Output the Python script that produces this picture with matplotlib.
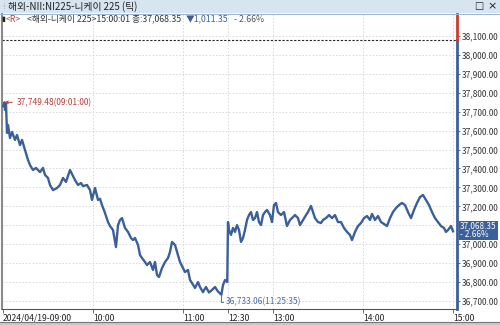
import matplotlib
matplotlib.use('Agg')
import matplotlib.pyplot as plt
from matplotlib.patches import Rectangle
from matplotlib.lines import Line2D

plt.rcParams['font.family'] = ['Noto Sans CJK KR', 'DejaVu Sans']

# ---- data (session minutes since 09:00, lunch break removed) ----
minutes = [0, 1, 1.33, 2, 2.67, 3.33, 4.67, 6, 8, 9.33, 11.33, 12.67, 14.67, 16.67, 18, 20, 22,
           24.67, 26.67, 28, 30, 31.33, 33.33, 36, 38, 40, 42, 44.67, 46.67, 48, 50, 52, 53.33,
           56, 58, 59.33, 61.33, 63.33, 64.67, 66, 68, 70, 71.33, 73.33, 75.33, 76.67, 78, 79.33,
           81.33, 83.33, 85.33, 86.67, 88, 90, 91.33, 92.67, 94.67, 96, 98, 100, 101.33, 102.67,
           104, 106, 108, 110, 111.33, 112.67, 114.67, 116.67, 118, 120, 121.33, 123.33, 124.67,
           126, 128, 130, 131.33, 133.33, 135.33, 137.33, 139.33, 141.33, 143.33, 145.58, 146.67,
           148, 149.5,
           150, 150.67, 152, 153.33, 154.67, 156, 157.33, 158.67, 160, 161.33, 162.67, 164, 165.33,
           166.67, 168, 169.33, 170.67, 172, 173.33, 174.67, 176, 178, 179.33, 180.67, 182, 183.33,
           185.33, 187.33, 189.33, 191.33, 192.67, 194.67, 196.67, 198, 200, 202, 203.33, 205.33,
           206.67, 208, 210, 212, 213.33, 215.33, 217.33, 219.33, 221.33, 223.33, 225.33, 227.33,
           229.33, 231.33, 232.67, 234.67, 236.67, 238.67, 240.67, 242.67, 244.67, 246, 248, 250,
           252, 254, 256, 258, 260, 262, 264, 266, 268, 270, 272, 274, 276, 278, 280, 282, 284,
           286, 288, 290, 292, 294, 295.33, 296.67, 298.67, 300]
prices = [37730, 37749.48, 37709, 37741, 37588, 37630, 37561, 37593, 37551, 37577, 37524, 37551,
          37498, 37445, 37418, 37392, 37403, 37381, 37403, 37366, 37350, 37313, 37286, 37297,
          37313, 37350, 37329, 37392, 37360, 37339, 37313, 37323, 37307, 37313, 37286, 37234,
          37297, 37234, 37240, 37207, 37165, 37117, 37096, 37075, 36985, 37101, 37128, 37138,
          37086, 37065, 37033, 37022, 37033, 36996, 36943, 36927, 36906, 36890, 36906, 36864,
          36906, 36837, 36827, 36874, 36906, 36927, 36959, 37012, 36996, 36943, 36906, 36874,
          36853, 36864, 36811, 36795, 36769, 36800, 36774, 36747, 36774, 36745, 36758, 36774,
          36750, 36733.06, 36784, 36811, 36800,
          37117, 37075, 37049, 37086, 37065, 37101, 37075, 37012, 37033, 37075, 37128, 37154,
          37170, 37128, 37138, 37170, 37117, 37101, 37154, 37170, 37181, 37154, 37117, 37207,
          37218, 37170, 37154, 37170, 37096, 37128, 37138, 37154, 37138, 37101, 37128, 37154,
          37170, 37202, 37170, 37138, 37117, 37112, 37128, 37138, 37154, 37138, 37154, 37117,
          37117, 37086, 37065, 37049, 37022, 37065, 37096, 37112, 37138, 37149, 37128, 37160,
          37128, 37149, 37117, 37107, 37096, 37138, 37170, 37191, 37207, 37218, 37207, 37170,
          37138, 37181, 37218, 37249, 37260, 37234, 37207, 37170, 37138, 37117, 37096, 37086,
          37065, 37075, 37096, 37068.35]
prev_close = 38079.70
tick_minutes = [0, 60, 120, 150, 180, 240, 300]
tick_labels = ['2024/04/19-09:00', '10:00', '11:00', '12:30', '13:00', '14:00', '15:00']
y_ticks = list(range(36700, 38101, 100))
title = '해외-NII:NI225-니케이 225 (틱)'
hi_label = '37,749.48(09:01:00)'
lo_label = '36,733.06(11:25:35)'
last_label = '37,068.35\n- 2.66%'

W, H = 500, 325
fig = plt.figure(figsize=(5, 3.25), dpi=100)
fig.patch.set_facecolor('white')

def px(x0, y0, x1, y1):
    return [x0 / W, 1 - y1 / H, (x1 - x0) / W, (y1 - y0) / H]

BLUE = '#3b5f99'
RED = '#b5403a'

# title bar
fig.patches.append(Rectangle((0, 1 - 13 / H), 1, 13 / H, transform=fig.transFigure,
                             facecolor='#d7e5f1', edgecolor='none', zorder=0))
fig.lines.append(Line2D([0, 1], [1 - 13.5 / H] * 2, transform=fig.transFigure,
                        color='#9fb6cc', lw=0.8))
fig.text(2 / W, 1 - 6.5 / H, '⁞', fontsize=6, color='#8899aa', va='center', ha='left')
fig.text(8 / W, 1 - 6.5 / H, title, fontsize=7, color='#222222', va='center', ha='left')
fig.text(474 / W, 1 - 6.5 / H, '□', fontsize=7, color='#222222', va='center', ha='left',
         family=['DejaVu Sans'])
fig.text(487 / W, 1 - 6.5 / H, '×', fontsize=8, color='#222222', va='center', ha='left',
         family=['DejaVu Sans'])

# legend line
ly = 1 - 19 / H
fig.text(1 / W, ly, '▮', fontsize=5, color='#222222', va='center', ha='left', family=['DejaVu Sans'])
fig.text(6 / W, ly, '<R>', fontsize=6.3, color=RED, va='center', ha='left')
fig.text(27 / W, ly, '<해외-니케이 225>15:00:01 종:37,068.35', fontsize=6.3, color='#333333',
         va='center', ha='left')
fig.text(186 / W, ly, '▼1,011.35', fontsize=6.3, color=BLUE, va='center', ha='left')
fig.text(234 / W, ly, '- 2.66%', fontsize=6.3, color='#555555', va='center', ha='left')

# main axes
ax = fig.add_axes(px(2, 14, 457, 309))
ax.set_facecolor('white')
ymax = 38100 + (36 - 14) / 0.1893
ymin = 36700 - (309 - 301) / 0.1893
ax.set_ylim(ymin, ymax)
ax.set_xlim(-0.67, 302.67)

for v in y_ticks:
    ax.axhline(v, color='#d6d6d6', lw=0.6, dashes=(2, 2), zorder=1)
for t in tick_minutes[1:]:
    ax.axvline(t, color='#d6d6d6', lw=0.6, dashes=(2, 2), zorder=1)
ax.axhline(prev_close, color='#222222', lw=0.8, dashes=(2, 1.5), zorder=2)

ax.plot(minutes, prices, color=BLUE, lw=1.7, zorder=3, solid_joinstyle='round')

for s in ['top', 'right']:
    ax.spines[s].set_visible(False)
ax.spines['left'].set_color('#8a8a8a')
ax.spines['left'].set_linewidth(1.5)
ax.spines['bottom'].set_color('#555555')
ax.spines['bottom'].set_linewidth(0.8)

xr = ax.get_xlim()[1]
ax.plot([xr, xr], [ymin, prev_close], color=BLUE, lw=2, clip_on=False, zorder=4)
ax.plot([xr, xr], [prev_close, ymax], color='#d23a2e', lw=2, clip_on=False, zorder=4)

# tick labels hidden where the last-value box covers them (as in the reference)
ax.yaxis.tick_right()
ax.set_yticks(y_ticks)
ax.set_yticklabels(['' if abs(v - prices[-1]) < 50 else f'{v:,.2f}' for v in y_ticks])
ax.tick_params(axis='y', direction='out', length=2.5, width=0.6, color='#555555',
               labelsize=6, labelcolor='#333333', pad=1)
ax.set_xticks(tick_minutes)
ax.set_xticklabels(tick_labels, ha='left')
ax.tick_params(axis='x', direction='out', length=3, width=0.6, color='#555555',
               labelsize=6.2, labelcolor='#222222', pad=0.5)

# high annotation
hi_idx = prices.index(max(prices))
ax.annotate(hi_label, xy=(minutes[hi_idx], prices[hi_idx]), xytext=(12, 0),
            textcoords='offset pixels', ha='left', va='center', fontsize=6, color=RED,
            arrowprops=dict(arrowstyle='->', color=RED, lw=0.7, shrinkA=1, shrinkB=0,
                            mutation_scale=5), zorder=5)
# low annotation
lo_idx = prices.index(min(prices))
ax.annotate(lo_label, xy=(minutes[lo_idx], prices[lo_idx]), xytext=(4, -7),
            textcoords='offset pixels', ha='left', va='center', fontsize=6, color='#4a6c9e',
            arrowprops=dict(arrowstyle='-', color='#4a6c9e', lw=0.7, shrinkA=0, shrinkB=0,
                            connectionstyle='angle,angleA=0,angleB=90,rad=0'), zorder=5)

# last value box
ax.annotate(last_label, xy=(1, prices[-1]), xycoords=ax.get_yaxis_transform(),
            xytext=(3, 1), textcoords='offset pixels', ha='left', va='center',
            fontsize=5.9, color='white', linespacing=0.85, annotation_clip=False,
            bbox=dict(boxstyle='square,pad=0.15', facecolor=BLUE, edgecolor='none'), zorder=6)

# bottom band
fig.lines.append(Line2D([0, 1], [1 - 322 / H] * 2, transform=fig.transFigure,
                        color='#777777', lw=0.8))
fig.patches.append(Rectangle((0, 0), 1, 3 / H, transform=fig.transFigure,
                             facecolor='#c9c9c9', edgecolor='none'))

fig.savefig('out.png', dpi=100)
